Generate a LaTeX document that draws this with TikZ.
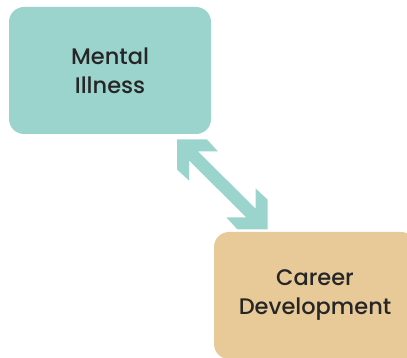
\documentclass[tikz,border=0pt]{standalone}
\usepackage{fontspec}
\setmainfont{Poppins}[BoldFont={Poppins Medium}]
\usetikzlibrary{calc}
\definecolor{tealbox}{HTML}{9BD4CD}
\definecolor{tanbox}{HTML}{E8CA98}
\definecolor{txt}{HTML}{262626}
\tikzset{
  card/.style={rounded corners=15pt, inner sep=0pt, align=center,
    text=txt, font=\fontsize{22.5}{29}\selectfont\bfseries},
}
\begin{document}
\begin{tikzpicture}[x=1pt,y=-1pt]
\useasboundingbox (0,0) rectangle (407,358);
\clip (0,0) rectangle (407,358);
\node[card, fill=tealbox, minimum width=202pt, minimum height=127pt] (mi) at (110,70.5) {Mental\\Illness};
\node[card, fill=tanbox, minimum width=202pt, minimum height=127pt] (cd) at (315,295.5) {Career\\Development};
\coordinate (t1) at (177,139.5);
\coordinate (t2) at (267.5,229.5);
\fill[tealbox] (t1) -- ($(t1)+(30,0)$) -- ($(t1)+(41,12)$) -- ($(t1)+(21,12)$)
  -- ($(t2)+(-12,-21)$) -- ($(t2)+(-12,-41)$) -- ($(t2)+(0,-30)$) -- (t2)
  -- ($(t2)+(-30,0)$) -- ($(t2)+(-41,-12)$) -- ($(t2)+(-21,-12)$)
  -- ($(t1)+(12,21)$) -- ($(t1)+(12,41)$) -- ($(t1)+(0,30)$) -- cycle;
\end{tikzpicture}
\end{document}
